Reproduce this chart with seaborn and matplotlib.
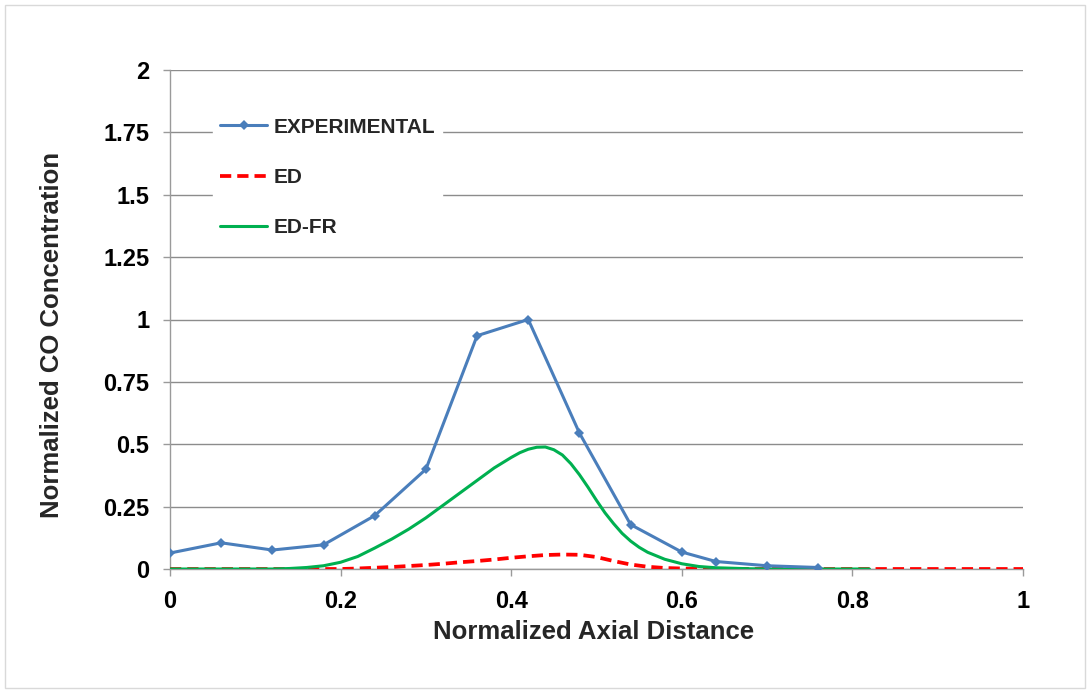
import matplotlib
matplotlib.use("Agg")
import matplotlib.pyplot as plt
from matplotlib.patches import Rectangle
import seaborn as sns
import pandas as pd

# Measured CO profile (normalized)
exp_x = [0.0, 0.06, 0.12, 0.18, 0.24, 0.30, 0.36, 0.42, 0.48, 0.54, 0.60, 0.64, 0.70, 0.76]
exp_y = [0.064, 0.105, 0.076, 0.097, 0.214, 0.400, 0.935, 1.000, 0.545, 0.178, 0.068, 0.030, 0.013, 0.006]

# Eddy-dissipation model prediction
ed_x = [0.00, 0.04, 0.08, 0.12, 0.16, 0.20, 0.22, 0.24, 0.26, 0.28, 0.30, 0.32, 0.34, 0.36,
        0.38, 0.40, 0.42, 0.44, 0.46, 0.48, 0.50, 0.52, 0.54, 0.56, 0.58, 0.60, 0.62,
        0.66, 0.70, 0.75, 0.80, 0.85, 0.90, 0.95, 1.00]
ed_y = [0.0, 0.0, 0.0, 0.0, 0.0, 0.0, 0.002, 0.005, 0.008, 0.012, 0.016, 0.021, 0.027, 0.032,
        0.038, 0.045, 0.051, 0.056, 0.058, 0.057, 0.048, 0.032, 0.018, 0.009, 0.004, 0.002, 0.001,
        0.0, 0.0, 0.0, 0.0, 0.0, 0.0, 0.0, 0.0]

# Eddy-dissipation / finite-rate model prediction
edfr_x = [0.00, 0.04, 0.08, 0.12, 0.14, 0.16, 0.18, 0.20, 0.22, 0.24, 0.26, 0.28, 0.30, 0.32,
          0.34, 0.36, 0.38, 0.40, 0.41, 0.42, 0.43, 0.44, 0.45, 0.46, 0.47, 0.48, 0.49, 0.50,
          0.51, 0.52, 0.53, 0.54, 0.55, 0.56, 0.58, 0.60, 0.62, 0.64, 0.66, 0.68, 0.70,
          0.74, 0.78, 0.82]
edfr_y = [0.0, 0.0, 0.0, 0.0, 0.002, 0.006, 0.013, 0.027, 0.050, 0.084, 0.120, 0.160, 0.205, 0.255,
          0.305, 0.355, 0.405, 0.447, 0.466, 0.480, 0.488, 0.489, 0.478, 0.457, 0.422, 0.378, 0.328, 0.275,
          0.225, 0.182, 0.143, 0.112, 0.087, 0.067, 0.039, 0.021, 0.010, 0.005, 0.003, 0.001, 0.0,
          0.0, 0.0, 0.0]

x_ticks = [0, 0.2, 0.4, 0.6, 0.8, 1.0]
x_tick_labels = ["0", "0.2", "0.4", "0.6", "0.8", "1"]
y_ticks = [0, 0.25, 0.5, 0.75, 1.0, 1.25, 1.5, 1.75, 2.0]
y_tick_labels = ["0", "0.25", "0.5", "0.75", "1", "1.25", "1.5", "1.75", "2"]

sns.set_theme(style="white")
plt.rcParams["font.family"] = ["Liberation Sans", "DejaVu Sans"]
plt.rcParams["font.weight"] = "bold"

fig = plt.figure(figsize=(10.9, 6.93), dpi=100)
ax = fig.add_axes([170 / 1090, 1 - 569 / 693, (1023 - 170) / 1090, (569 - 70) / 693])

df_exp = pd.DataFrame({"x": exp_x, "y": exp_y})
df_ed = pd.DataFrame({"x": ed_x, "y": ed_y})
df_edfr = pd.DataFrame({"x": edfr_x, "y": edfr_y})

sns.lineplot(data=df_exp, x="x", y="y", ax=ax, color="#4A7EBB", linewidth=2.2,
             marker="D", markersize=5.5, markeredgewidth=0, label="EXPERIMENTAL", zorder=4)
sns.lineplot(data=df_ed, x="x", y="y", ax=ax, color="#FF0000", linewidth=2.7,
             linestyle=(0, (3, 1.6)), label="ED", zorder=3)
sns.lineplot(data=df_edfr, x="x", y="y", ax=ax, color="#00B050", linewidth=2.2,
             label="ED-FR", zorder=3)

ax.set_xlim(0, 1)
ax.set_ylim(0, 2)
ax.set_xticks(x_ticks)
ax.set_xticklabels(x_tick_labels)
ax.set_yticks(y_ticks)
ax.set_yticklabels(y_tick_labels)
ax.tick_params(axis="both", which="major", labelsize=17, length=5, width=1.0,
               color="#9A9A9A", direction="out", bottom=True, left=True)
ax.tick_params(axis="x", pad=10)
ax.tick_params(axis="y", pad=10)
for lab in ax.get_xticklabels() + ax.get_yticklabels():
    lab.set_fontweight("bold")
    lab.set_color("black")

ax.yaxis.grid(True, color="#8C8C8C", linewidth=1.0)
ax.xaxis.grid(False)
ax.set_axisbelow(True)
for side in ["top", "right"]:
    ax.spines[side].set_visible(False)
for side in ["left", "bottom"]:
    ax.spines[side].set_color("#9A9A9A")
    ax.spines[side].set_linewidth(1.0)

ax.set_xlabel("Normalized Axial Distance", fontsize=18.5, fontweight="bold")
ax.set_ylabel("Normalized CO Concentration", fontsize=18.5, fontweight="bold")
ax.xaxis.set_label_coords(0.496, -0.126)
ax.xaxis.label.set_verticalalignment("center")
ax.yaxis.set_label_coords(-0.138, 0.469)
ax.yaxis.label.set_verticalalignment("center")

leg = ax.legend(loc="upper left", bbox_to_anchor=(0.038, 0.94), frameon=True,
                fontsize=15, handlelength=2.26, handletextpad=0.3, labelspacing=1.5,
                borderpad=0.35, fancybox=False)
leg.get_frame().set_facecolor("white")
leg.get_frame().set_edgecolor("white")
leg.get_frame().set_alpha(1.0)
for t in leg.get_texts():
    t.set_fontweight("bold")

# light chart-area border
fig.patches.append(Rectangle((5 / 1090, 5 / 693), 1080 / 1090, 683 / 693,
                             transform=fig.transFigure, fill=False,
                             edgecolor="#D9D9D9", linewidth=1.0))

fig.savefig("out.png", dpi=100)
